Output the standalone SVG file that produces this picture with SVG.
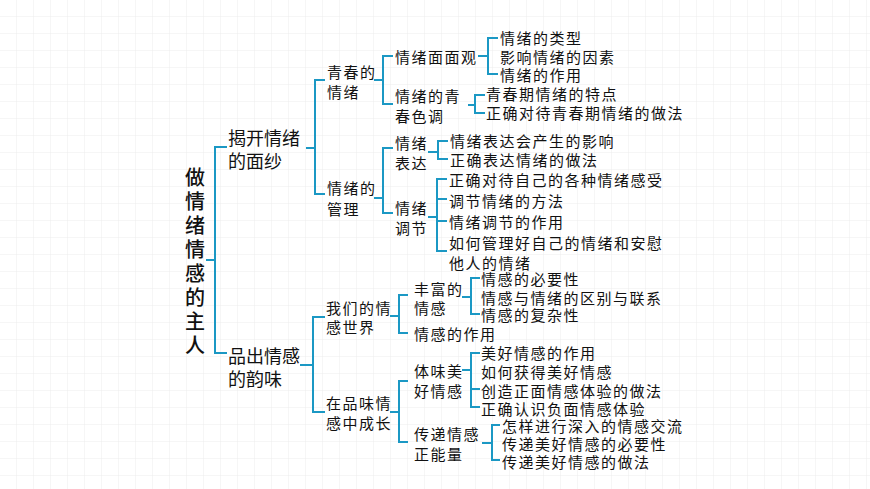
<svg xmlns="http://www.w3.org/2000/svg" width="870" height="489" viewBox="0 0 870 489">
<defs>
<pattern id="grid" width="17" height="17" patternUnits="userSpaceOnUse"><path d="M17 0V17M0 17H17" fill="none" stroke="#ececec" stroke-width="1"/></pattern>
<style>
text{font-family:"Noto Sans CJK SC","Noto Sans CJK JP",sans-serif;fill:#111;dominant-baseline:central}
.r{font-size:20px;font-weight:500}
.a{font-size:18px}
.b{font-size:15px;letter-spacing:1.5px}
.c path{fill:none;stroke:#1b98c4;stroke-width:2}
</style>
</defs>
<rect width="870" height="489" fill="#fff"/>
<rect width="870" height="489" fill="url(#grid)"/>
<g class="c" id="connectors">
<path d="M206 260H215M227 147H215V353H227"/>
<path d="M306 148H315M325 80H315V194H325"/>
<path d="M374 80H383M393 56H383V104H393"/>
<path d="M478 56H488M498 38H488V74H498"/>
<path d="M468 105H475M485 95H475V113H485"/>
<path d="M374 198H383M393 148H383V213H393"/>
<path d="M428 152H438M448 141H438V159H448"/>
<path d="M428 217H437M447 179H437V251H447M437 199H447M437 221H447"/>
<path d="M300 365H313M325 317H313V412H325"/>
<path d="M390 316H399M408 295H399V333H408"/>
<path d="M462 297H471M480 278H471V314H480"/>
<path d="M390 412H399M408 381H399V442H408"/>
<path d="M462 370H471M480 353H471V407H480M471 389H480"/>
<path d="M482 443H492M500 425H492V460H500"/>
</g>
<g id="root"><text class="r" x="195" y="176" text-anchor="middle">做</text><text class="r" x="195" y="200" text-anchor="middle">情</text><text class="r" x="195" y="224" text-anchor="middle">绪</text><text class="r" x="195" y="248" text-anchor="middle">情</text><text class="r" x="195" y="272" text-anchor="middle">感</text><text class="r" x="195" y="296" text-anchor="middle">的</text><text class="r" x="195" y="320" text-anchor="middle">主</text><text class="r" x="195" y="344" text-anchor="middle">人</text></g>
<g id="n1"><text class="a" x="228" y="137">揭开情绪</text><text class="a" x="228" y="160">的面纱</text></g>
<g id="n2"><text class="a" x="228" y="355">品出情感</text><text class="a" x="228" y="378">的韵味</text></g>
<g id="n3"><text class="b" x="327" y="71">青春的</text><text class="b" x="327" y="91">情绪</text></g>
<g id="n4"><text class="b" x="327" y="187">情绪的</text><text class="b" x="327" y="208">管理</text></g>
<g id="n5"><text class="b" x="395" y="56">情绪面面观</text></g>
<g id="n6"><text class="b" x="395" y="95">情绪的青</text><text class="b" x="395" y="115">春色调</text></g>
<g id="n7"><text class="b" x="500" y="37">情绪的类型</text><text class="b" x="500" y="56">影响情绪的因素</text><text class="b" x="500" y="74">情绪的作用</text></g>
<g id="n8"><text class="b" x="486" y="93">青春期情绪的特点</text><text class="b" x="486" y="112">正确对待青春期情绪的做法</text></g>
<g id="n9"><text class="b" x="395" y="142">情绪</text><text class="b" x="395" y="162">表达</text></g>
<g id="n10"><text class="b" x="395" y="207">情绪</text><text class="b" x="395" y="227">调节</text></g>
<g id="n11"><text class="b" x="450" y="140">情绪表达会产生的影响</text><text class="b" x="450" y="159">正确表达情绪的做法</text></g>
<g id="n12"><text class="b" x="449" y="179">正确对待自己的各种情绪感受</text><text class="b" x="449" y="200">调节情绪的方法</text><text class="b" x="449" y="221">情绪调节的作用</text><text class="b" x="449" y="242">如何管理好自己的情绪和安慰</text><text class="b" x="449" y="262">他人的情绪</text></g>
<g id="n13"><text class="b" x="326" y="307">我们的情</text><text class="b" x="326" y="326">感世界</text></g>
<g id="n14"><text class="b" x="326" y="402">在品味情</text><text class="b" x="326" y="422">感中成长</text></g>
<g id="n15"><text class="b" x="414" y="288">丰富的</text><text class="b" x="414" y="307">情感</text></g>
<g id="n16"><text class="b" x="414" y="333">情感的作用</text></g>
<g id="n17"><text class="b" x="481" y="278">情感的必要性</text><text class="b" x="481" y="297">情感与情绪的区别与联系</text><text class="b" x="481" y="314">情感的复杂性</text></g>
<g id="n18"><text class="b" x="414" y="370">体味美</text><text class="b" x="414" y="390">好情感</text></g>
<g id="n19"><text class="b" x="414" y="433">传递情感</text><text class="b" x="414" y="453">正能量</text></g>
<g id="n20"><text class="b" x="481" y="352">美好情感的作用</text><text class="b" x="481" y="371">如何获得美好情感</text><text class="b" x="481" y="390">创造正面情感体验的做法</text><text class="b" x="481" y="408">正确认识负面情感体验</text></g>
<g id="n21"><text class="b" x="502" y="425">怎样进行深入的情感交流</text><text class="b" x="502" y="443">传递美好情感的必要性</text><text class="b" x="502" y="461">传递美好情感的做法</text></g>
</svg>
